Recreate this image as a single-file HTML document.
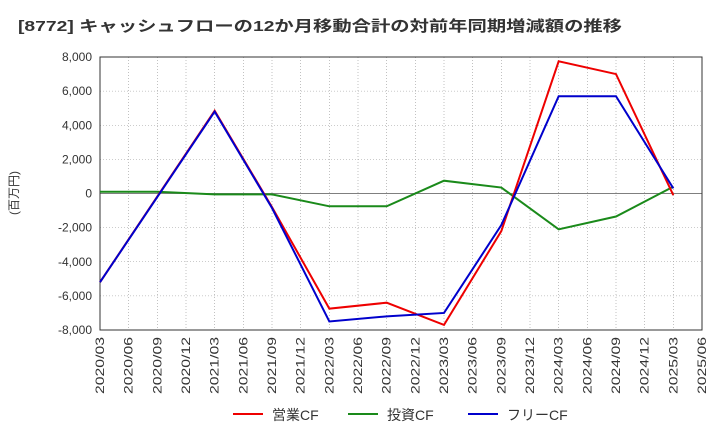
<!DOCTYPE html>
<html><head><meta charset="utf-8"><style>
body{margin:0;background:#fff;font-family:"Liberation Sans","Noto Sans CJK JP",sans-serif;}
</style></head><body>
<svg width="720" height="440" xmlns="http://www.w3.org/2000/svg" id="chart">
<text x="18" y="31" font-size="15" font-weight="bold" fill="#333" textLength="604" lengthAdjust="spacingAndGlyphs">[8772]  キャッシュフローの12か月移動合計の対前年同期増減額の推移</text>
<text transform="translate(18,193) rotate(-90)" text-anchor="middle" font-size="12" fill="#333">(百万円)</text>
<g id="grid"></g><g id="axes"></g><g id="series"></g>
<g>
<line x1="233" y1="414" x2="263" y2="414" stroke="#e00" stroke-width="2"/><text x="272" y="420" font-size="14" fill="#333">営業CF</text>
<line x1="348" y1="414" x2="378" y2="414" stroke="#1a8a1a" stroke-width="2"/><text x="387" y="420" font-size="14" fill="#333">投資CF</text>
<line x1="468" y1="414" x2="498" y2="414" stroke="#00c" stroke-width="2"/><text x="507" y="420" font-size="14" fill="#333">フリーCF</text>
</g>
</svg>
<script>
const xLabels=["2020/03","2020/06","2020/09","2020/12","2021/03","2021/06","2021/09","2021/12","2022/03","2022/06","2022/09","2022/12","2023/03","2023/06","2023/09","2023/12","2024/03","2024/06","2024/09","2024/12","2025/03","2025/06"];
const yTicks=[-8000,-6000,-4000,-2000,0,2000,4000,6000,8000];
const opIdx=[0,4,6,8,10,12,14,16,18,20];
const opVals=[-5200,4850,-800,-6750,-6400,-7700,-2200,7750,7000,-100];
const invIdx=[0,2,4,6,8,10,12,14,16,18,20];
const invVals=[100,100,-50,-50,-750,-750,750,350,-2100,-1350,400];
const freeIdx=[0,4,6,8,10,12,14,16,18,20];
const freeVals=[-5200,4800,-850,-7500,-7200,-7000,-1850,5700,5700,300];
const NS="http://www.w3.org/2000/svg";
const L=100,R=702,T=57,B=330,ymin=-8000,ymax=8000;
const xs=i=>L+i*(R-L)/(xLabels.length-1);
const ys=v=>B-(v-ymin)/(ymax-ymin)*(B-T);
function mk(tag,attrs,parent){const e=document.createElementNS(NS,tag);for(const k in attrs)e.setAttribute(k,attrs[k]);document.getElementById(parent).appendChild(e);return e;}
const bg=mk('rect',{x:L,y:T,width:R-L,height:B-T,fill:'none',stroke:'#333','stroke-width':1},'axes');


xLabels.forEach((lab,i)=>{
 const x=xs(i);
 const g=mk('line',{x1:x,y1:T,x2:x,y2:B,stroke:'#999','stroke-width':0.6,'stroke-dasharray':'1,2'},'grid');
 
 
 const t=mk('text',{transform:`translate(${x+4},337) rotate(-90)`,'text-anchor':'end','font-size':12,fill:'#333',textLength:57,lengthAdjust:'spacingAndGlyphs'},'axes');
 t.textContent=lab;
 
 
});
yTicks.forEach(v=>{
 const y=ys(v);
 const g=mk('line',{x1:L,y1:y,x2:R,y2:y,stroke:v===0?'#555':'#999','stroke-width':v===0?0.8:0.6,'stroke-dasharray':v===0?'':'1,2'},'grid');
 
 
 const t=mk('text',{x:92,y:y+4,'text-anchor':'end','font-size':12,fill:'#333'},'axes');
 t.textContent=v.toLocaleString('en-US');
 
 
});
function line(idx,vals,color,name){
 const p=mk('polyline',{points:idx.map((i,k)=>xs(i)+','+ys(vals[k])).join(' '),fill:'none',stroke:color,'stroke-width':2},'series');
 
 
}
line(invIdx,invVals,'#1a8a1a','investing-cf-line');
line(opIdx,opVals,'#e00','operating-cf-line');
line(freeIdx,freeVals,'#00c','free-cf-line');
</script>
</body></html>
